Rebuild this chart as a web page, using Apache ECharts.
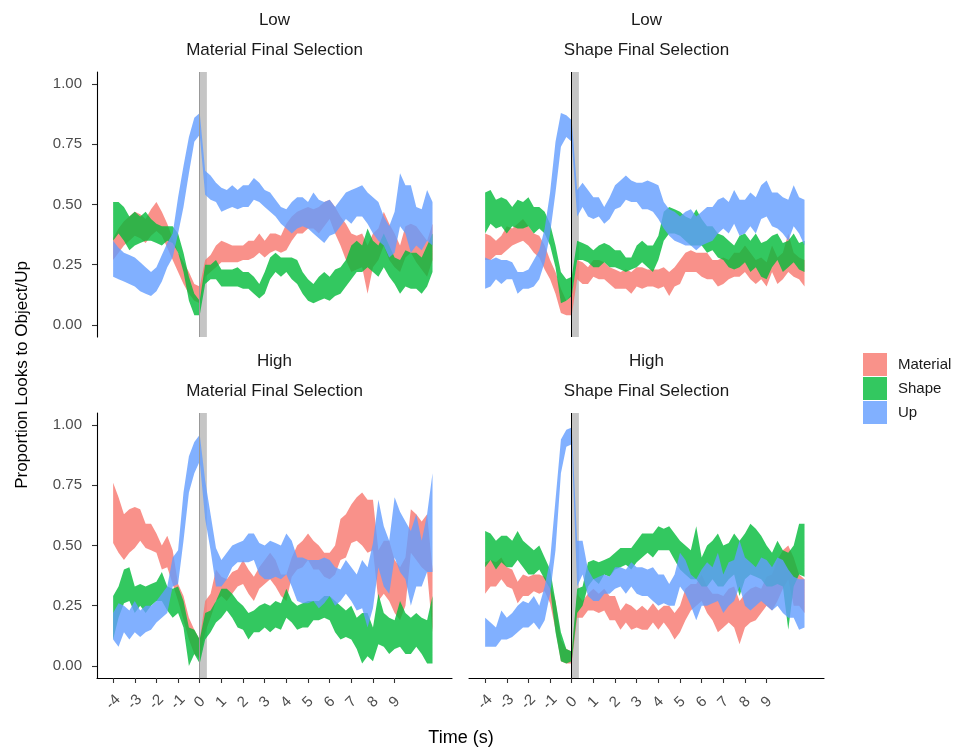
<!DOCTYPE html>
<html>
<head>
<meta charset="utf-8">
<title>Proportion Looks to Object/Up</title>
<script src="https://cdn.jsdelivr.net/npm/echarts@6/dist/echarts.min.js"></script>
<style>
    html, body {margin: 0; padding: 0; background: #fff;}
    #main {width: 958px; height: 749px;}
</style>
</head>
<body>
<div id="main"></div>
<script>
// time (s) of each sample
var time = [-4, -3.75, -3.5, -3.25, -3, -2.75, -2.5, -2.25, -2, -1.75, -1.5, -1.25, -1, -0.75, -0.5, -0.25,
    0, 0.25, 0.5, 0.75, 1, 1.25, 1.5, 1.75, 2, 2.25, 2.5, 2.75, 3, 3.25, 3.5, 3.75, 4, 4.25, 4.5, 4.75,
    5, 5.25, 5.5, 5.75, 6, 6.25, 6.5, 6.75, 7, 7.25, 7.5, 7.75, 8, 8.25, 8.5, 8.75, 9, 9.25, 9.5, 9.75,
    10, 10.25, 10.5, 10.75];
var xTicks = [-4, -3, -2, -1, 0, 1, 2, 3, 4, 5, 6, 7, 8, 9];
var yTicks = [0, 0.25, 0.5, 0.75, 1];
var legendNames = ["Material", "Shape", "Up"];
var rectSpan = [0, 0.33];

// Low / Material Final Selection
var lowMatMaterialLo = [.27, .30, .33, .35, .37, .36, .34, .37, .39, .37, .32, .27, .22, .17, .13, .10, .09,
    .20, .22, .24, .26, .26, .26, .26, .27, .27, .28, .30, .28, .30, .31, .30, .31, .35, .38, .38, .40, .40, .38, .41,
    .44, .38, .33, .27, .22, .23, .24, .13, .24, .27, .33, .27, .24, .22, .28, .30, .26, .23, .20, .27];
var lowMatMaterialHi = [.36, .40, .43, .45, .47, .46, .44, .48, .51, .47, .42, .36, .30, .26, .22, .17, .16,
    .27, .29, .33, .35, .34, .33, .33, .33, .35, .35, .38, .35, .38, .38, .37, .42, .45, .47, .48, .49, .48, .49, .51,
    .52, .49, .45, .42, .38, .37, .38, .33, .38, .40, .47, .42, .38, .33, .41, .42, .41, .38, .35, .42];
var lowMatShapeLo = [.35, .38, .35, .31, .33, .34, .35, .35, .34, .33, .35, .34, .30, .22, .10, .04, .04,
    .17, .19, .19, .16, .16, .16, .16, .15, .15, .13, .11, .13, .19, .22, .20, .22, .19, .17, .13, .10, .09, .10, .11,
    .10, .12, .13, .16, .19, .22, .22, .24, .22, .20, .24, .20, .17, .13, .16, .15, .15, .13, .16, .22];
var lowMatShapeHi = [.51, .51, .49, .45, .47, .45, .47, .44, .42, .41, .41, .41, .38, .30, .20, .13, .10,
    .25, .25, .27, .23, .23, .23, .24, .22, .22, .20, .17, .22, .28, .30, .28, .28, .28, .27, .22, .19, .17, .20, .22,
    .20, .23, .24, .27, .33, .35, .33, .40, .35, .33, .38, .33, .28, .27, .31, .30, .30, .28, .33, .38];
var lowMatUpLo = [.20, .19, .18, .17, .16, .14, .13, .12, .14, .18, .24, .28, .38, .49, .63, .76, .79,
    .54, .52, .51, .47, .48, .49, .48, .49, .49, .52, .51, .49, .47, .45, .42, .40, .38, .40, .41, .40, .38, .36, .34,
    .37, .38, .41, .44, .42, .45, .45, .42, .38, .35, .33, .28, .30, .41, .38, .30, .33, .31, .35, .33];
var lowMatUpHi = [.35, .32, .30, .29, .28, .26, .24, .22, .24, .29, .34, .38, .53, .66, .78, .86, .88,
    .64, .62, .59, .57, .56, .58, .56, .58, .58, .61, .59, .56, .55, .52, .49, .48, .51, .53, .53, .51, .55, .52, .51,
    .52, .49, .52, .55, .56, .57, .58, .55, .53, .51, .45, .41, .47, .63, .58, .58, .49, .48, .56, .51];

// Low / Shape Final Selection
var lowShapeMaterialLo = [.27, .27, .29, .29, .31, .33, .34, .35, .33, .30, .28, .23, .19, .13, .05, .04, .04,
    .19, .17, .17, .20, .19, .19, .17, .15, .15, .15, .13, .16, .15, .16, .16, .15, .16, .12, .16, .17, .22, .22, .22,
    .20, .19, .19, .16, .17, .19, .20, .20, .22, .19, .17, .19, .16, .22, .17, .19, .22, .20, .19, .16];
var lowShapeMaterialHi = [.38, .37, .35, .37, .41, .40, .42, .44, .41, .38, .37, .33, .27, .22, .15, .10, .13,
    .27, .26, .24, .27, .27, .26, .24, .23, .22, .23, .22, .24, .24, .23, .23, .23, .24, .22, .24, .27, .30, .31, .30,
    .30, .30, .27, .27, .28, .27, .30, .30, .33, .30, .27, .28, .26, .33, .28, .30, .38, .30, .28, .27];
var lowShapeShapeLo = [.38, .42, .40, .41, .38, .41, .40, .40, .41, .38, .40, .38, .33, .24, .09, .10, .12,
    .27, .27, .26, .24, .24, .26, .24, .24, .23, .22, .23, .24, .26, .24, .22, .27, .35, .38, .38, .37, .35, .33, .33,
    .33, .30, .31, .28, .27, .24, .23, .24, .26, .22, .24, .20, .19, .24, .27, .22, .24, .26, .23, .22];
var lowShapeShapeHi = [.55, .56, .52, .53, .52, .49, .52, .51, .53, .49, .49, .47, .42, .33, .22, .19, .20,
    .35, .34, .33, .31, .33, .34, .33, .31, .31, .28, .28, .33, .35, .33, .33, .37, .47, .49, .48, .47, .45, .44, .48,
    .44, .41, .41, .38, .37, .35, .33, .37, .38, .35, .38, .34, .35, .37, .38, .34, .35, .38, .34, .35];
var lowShapeUpLo = [.15, .16, .19, .17, .19, .19, .13, .15, .15, .16, .19, .26, .38, .55, .74, .78, .76,
    .45, .49, .45, .44, .45, .42, .44, .48, .49, .52, .51, .51, .48, .48, .47, .44, .40, .37, .35, .34, .33, .33, .31,
    .33, .34, .35, .38, .40, .38, .42, .37, .38, .41, .38, .44, .45, .41, .40, .38, .35, .41, .38, .33];
var lowShapeUpHi = [.28, .27, .28, .27, .27, .26, .22, .22, .23, .27, .31, .40, .55, .76, .88, .87, .85,
    .56, .59, .56, .53, .53, .49, .53, .58, .60, .62, .60, .59, .59, .60, .59, .58, .51, .48, .47, .45, .47, .48, .45,
    .47, .49, .49, .52, .53, .51, .56, .52, .52, .55, .53, .58, .60, .55, .55, .53, .52, .58, .53, .52];

// High / Material Final Selection
var highMatMaterialLo = [.51, .47, .44, .47, .49, .52, .49, .48, .47, .40, .41, .34, .27, .19, .11, .05, .03,
    .14, .20, .27, .29, .27, .30, .33, .34, .30, .27, .32, .34, .36, .33, .29, .27, .37, .40, .41, .44, .40, .40, .37,
    .36, .38, .44, .45, .51, .52, .50, .47, .48, .27, .30, .27, .22, .19, .25, .47, .44, .41, .39, .14];
var highMatMaterialHi = [.76, .70, .63, .65, .66, .65, .59, .59, .55, .50, .54, .48, .34, .29, .20, .15, .11,
    .27, .30, .40, .37, .36, .39, .40, .44, .40, .37, .41, .44, .47, .44, .38, .38, .45, .50, .52, .55, .52, .50, .47,
    .47, .50, .61, .63, .67, .70, .72, .69, .69, .48, .52, .52, .44, .41, .45, .65, .63, .60, .63, .40];
var highMatShapeLo = [.11, .20, .26, .27, .22, .25, .22, .25, .27, .27, .23, .20, .22, .16, .00, .05, .01,
    .11, .14, .18, .20, .23, .20, .16, .15, .11, .14, .14, .16, .14, .16, .15, .20, .18, .15, .16, .16, .19, .19, .20,
    .19, .14, .11, .12, .11, .07, .01, .04, .02, .09, .08, .05, .07, .08, .05, .05, .08, .05, .01, .01];
var highMatShapeHi = [.29, .33, .40, .41, .33, .34, .33, .34, .35, .39, .33, .32, .33, .27, .16, .15, .11,
    .22, .23, .27, .32, .32, .30, .27, .25, .22, .23, .25, .26, .25, .27, .26, .32, .27, .25, .26, .27, .27, .27, .29,
    .29, .27, .25, .23, .25, .20, .22, .22, .16, .30, .22, .20, .19, .27, .22, .20, .22, .20, .19, .29];
var highMatUpLo = [.11, .08, .14, .11, .14, .12, .14, .15, .18, .20, .22, .33, .34, .52, .72, .80, .85,
    .61, .48, .33, .33, .36, .41, .43, .43, .43, .44, .38, .36, .36, .37, .36, .38, .33, .27, .26, .26, .27, .24, .26,
    .29, .25, .27, .30, .27, .23, .24, .16, .24, .41, .33, .30, .45, .39, .36, .25, .33, .33, .39, .39];
var highMatUpHi = [.22, .26, .25, .23, .27, .23, .25, .25, .27, .30, .33, .45, .48, .72, .87, .93, .96,
    .77, .63, .49, .44, .47, .50, .51, .52, .55, .55, .51, .50, .52, .51, .50, .55, .52, .45, .45, .44, .44, .44, .45,
    .44, .41, .40, .44, .41, .38, .44, .41, .51, .69, .58, .52, .70, .64, .60, .56, .63, .52, .63, .80];

// High / Shape Final Selection
var highShapeMaterialLo = [.30, .33, .33, .36, .33, .32, .26, .29, .29, .31, .30, .31, .26, .15, .02, .01, .01,
    .20, .20, .23, .23, .22, .23, .19, .19, .15, .18, .15, .16, .15, .15, .18, .15, .18, .15, .11, .14, .19, .23, .25,
    .27, .22, .19, .14, .16, .18, .16, .09, .16, .18, .19, .22, .25, .23, .27, .32, .36, .25, .25, .22];
var highShapeMaterialHi = [.43, .44, .43, .45, .41, .40, .35, .38, .37, .38, .38, .37, .34, .27, .11, .07, .06,
    .30, .27, .30, .32, .30, .32, .29, .29, .23, .26, .25, .23, .25, .23, .26, .23, .25, .25, .22, .25, .32, .34, .34,
    .38, .33, .30, .30, .29, .32, .33, .27, .30, .32, .33, .32, .37, .38, .44, .48, .50, .45, .38, .36];
var highShapeShapeLo = [.41, .44, .40, .43, .41, .41, .44, .41, .38, .38, .40, .36, .32, .14, .02, .01, .02,
    .22, .25, .33, .36, .34, .38, .37, .40, .41, .42, .40, .43, .45, .47, .45, .48, .48, .48, .44, .40, .38, .36, .36,
    .33, .33, .36, .33, .33, .36, .38, .29, .36, .38, .37, .36, .33, .33, .34, .33, .15, .33, .38, .37];
var highShapeShapeHi = [.56, .55, .52, .54, .54, .52, .56, .52, .50, .48, .50, .45, .40, .27, .14, .07, .06,
    .32, .33, .43, .44, .43, .44, .45, .47, .49, .49, .49, .52, .55, .55, .55, .58, .57, .58, .55, .52, .50, .48, .58,
    .45, .50, .52, .55, .50, .51, .55, .52, .55, .59, .57, .54, .50, .47, .52, .48, .47, .50, .59, .59];
var highShapeUpLo = [.08, .08, .08, .11, .11, .12, .14, .16, .16, .18, .15, .19, .30, .48, .80, .91, .92,
    .33, .38, .29, .27, .27, .30, .30, .32, .33, .30, .33, .30, .29, .29, .27, .25, .26, .25, .25, .33, .30, .25, .19,
    .25, .25, .26, .27, .22, .25, .27, .33, .25, .23, .25, .27, .25, .23, .25, .22, .20, .20, .15, .16];
var highShapeUpHi = [.20, .18, .16, .23, .20, .22, .25, .27, .26, .29, .25, .33, .44, .69, .94, .98, .99,
    .52, .52, .40, .36, .37, .38, .37, .41, .41, .40, .43, .41, .41, .40, .41, .38, .38, .34, .38, .47, .44, .38, .36,
    .40, .43, .41, .47, .38, .43, .44, .52, .45, .43, .41, .45, .44, .41, .45, .44, .40, .37, .36, .36];

var fills = {Material: "rgba(248,118,109,0.8)", Shape: "rgba(0,186,56,0.8)", Up: "rgba(97,156,255,0.8)"};
var keyColors = {Material: "#F9928A", Shape: "#33C860", Up: "#81B0FF"};

var panels = [
    {row: "Low", col: "Material Final Selection", left: 97, top: 72, edge: "#999",
        ribbons: {Material: [lowMatMaterialLo, lowMatMaterialHi], Shape: [lowMatShapeLo, lowMatShapeHi], Up: [lowMatUpLo, lowMatUpHi]}},
    {row: "Low", col: "Shape Final Selection", left: 469, top: 72, edge: "#000",
        ribbons: {Material: [lowShapeMaterialLo, lowShapeMaterialHi], Shape: [lowShapeShapeLo, lowShapeShapeHi], Up: [lowShapeUpLo, lowShapeUpHi]}},
    {row: "High", col: "Material Final Selection", left: 97, top: 413, edge: "#999",
        ribbons: {Material: [highMatMaterialLo, highMatMaterialHi], Shape: [highMatShapeLo, highMatShapeHi], Up: [highMatUpLo, highMatUpHi]}},
    {row: "High", col: "Shape Final Selection", left: 469, top: 413, edge: "#000",
        ribbons: {Material: [highShapeMaterialLo, highShapeMaterialHi], Shape: [highShapeShapeLo, highShapeShapeHi], Up: [highShapeUpLo, highShapeUpHi]}}
];

var font = "Liberation Sans";
var panelW = 355, panelH = 265;
var grid = [], xAxis = [], yAxis = [], series = [], graphic = [];

// one polygon per ribbon: upper edge left to right, lower edge back
var ribbon = function (lo, hi, fill) {
    return function (params, api) {
        if (params.dataIndex !== 0) return null;
        var upper = [], lower = [];
        for (var i = 0; i < time.length; i++) {
            upper.push(api.coord([time[i], hi[i]]));
            lower.push(api.coord([time[i], lo[i]]));
        }
        return {type: "polygon", shape: {points: upper.concat(lower.reverse())}, style: {fill: fill}};
    };
};

panels.forEach(function (p, g) {
    var isLeft = g % 2 === 0, isBottom = g >= 2;
    grid.push({left: p.left, top: p.top, width: panelW, height: panelH, containLabel: false});
    xAxis.push({
        type: "value", gridIndex: g, min: -4.745, max: 11.65,
        axisLine: {show: isBottom, onZero: false, lineStyle: {color: "#000", width: 1.1}},
        axisTick: {show: isBottom, length: 5, customValues: xTicks, lineStyle: {color: "#333", width: 1.1}},
        axisLabel: {show: isBottom, customValues: xTicks, rotate: 45, margin: 24, color: "#4d4d4d",
            fontSize: 15, fontFamily: font, align: "center", verticalAlign: "middle"},
        splitLine: {show: false}
    });
    yAxis.push({
        type: "value", gridIndex: g, min: -0.05, max: 1.05,
        axisLine: {show: isLeft, onZero: false, lineStyle: {color: "#000", width: 1.1}},
        axisTick: {show: isLeft, length: 5, customValues: yTicks, lineStyle: {color: "#333", width: 1.1}},
        axisLabel: {show: isLeft, customValues: yTicks, margin: 15, color: "#4d4d4d", fontSize: 15, fontFamily: font,
            formatter: function (v) { return v.toFixed(2); }},
        splitLine: {show: false}
    });

    legendNames.forEach(function (name) {
        var lo = p.ribbons[name][0], hi = p.ribbons[name][1];
        series.push({
            type: "custom", name: name, xAxisIndex: g, yAxisIndex: g, silent: true, animation: false,
            itemStyle: {color: keyColors[name]},
            renderItem: ribbon(lo, hi, fills[name]),
            encode: {x: 0, y: [1, 2]},
            data: time.map(function (t, i) { return [t, lo[i], hi[i]]; })
        });
    });

    // grey window after the selection + line at 0
    series.push({
        type: "line", name: "window", xAxisIndex: g, yAxisIndex: g, data: [], silent: true, animation: false, z: 5,
        markArea: {silent: true, itemStyle: {color: "rgba(127,127,127,0.45)"},
            data: [[{xAxis: rectSpan[0]}, {xAxis: rectSpan[1]}]]},
        markLine: {silent: true, symbol: ["none", "none"], label: {show: false},
            lineStyle: {color: p.edge, type: "solid", width: 1}, data: [{xAxis: rectSpan[0]}]}
    });

    var cx = p.left + panelW / 2;
    graphic.push({type: "text", x: cx, y: p.top - 52, silent: true,
        style: {text: p.row, fill: "#1a1a1a", fontSize: 17, fontFamily: font, align: "center", verticalAlign: "middle"}});
    graphic.push({type: "text", x: cx, y: p.top - 22, silent: true,
        style: {text: p.col, fill: "#1a1a1a", fontSize: 17, fontFamily: font, align: "center", verticalAlign: "middle"}});
});

graphic.push({type: "text", x: 461, y: 738, silent: true,
    style: {text: "Time (s)", fill: "#000", fontSize: 18, fontFamily: font, align: "center", verticalAlign: "middle"}});
graphic.push({type: "text", x: 22, y: 375, rotation: Math.PI / 2, silent: true,
    style: {text: "Proportion Looks to Object/Up", fill: "#000", fontSize: 17, fontFamily: font, align: "center", verticalAlign: "middle"}});

var myChart = echarts.init(document.getElementById("main"), null, {renderer: "canvas"});
myChart.setOption({
    animation: false,
    backgroundColor: "#fff",
    grid: grid,
    xAxis: xAxis,
    yAxis: yAxis,
    legend: {
        orient: "vertical", left: 863, top: 353, padding: 0, itemWidth: 24, itemHeight: 23, itemGap: 1,
        icon: "rect", selectedMode: false,
        textStyle: {fontSize: 15, fontFamily: font, color: "#1a1a1a", padding: [0, 0, 0, 6]},
        data: legendNames.map(function (n) {
            return {name: n, itemStyle: {color: keyColors[n], opacity: 1}};
        })
    },
    graphic: graphic,
    series: series
});
</script>
</body>
</html>
